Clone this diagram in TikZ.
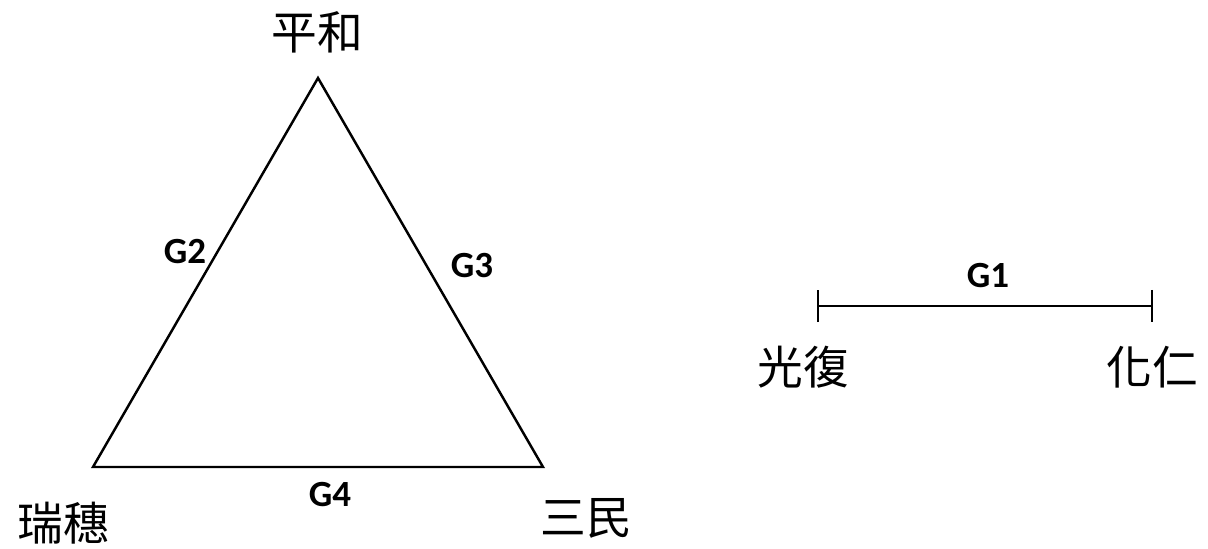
\documentclass[tikz,border=0pt]{standalone}
\usepackage{fontspec}
\setmainfont{Carlito}
\newfontfamily\cjkfont{Noto Sans CJK TC}
\usetikzlibrary{arrows.meta, positioning}

\begin{document}
\begin{tikzpicture}[
    x=0.01cm, y=-0.01cm,
    place/.style={
      inner sep=0pt,
      font=\cjkfont\fontsize{13}{15}\selectfont
    },
    glabel/.style={
      inner sep=0pt,
      font=\bfseries\fontsize{10.5}{12}\selectfont
    },
    edge/.style={
      line width=0.7pt,
      black
    }
  ]
    \useasboundingbox (0,0) rectangle (1208,549);

    % Triangle
    \coordinate (pinghe) at (318,78);
    \coordinate (ruisui) at (93,467);
    \coordinate (sanmin) at (543,467);
    \draw[edge, line join=miter] (pinghe) -- (sanmin) -- (ruisui) -- cycle;

    \node[place] (lpinghe) at (317,32) {平和};
    \node[place] (lruisui) at (63,523) {瑞穗};
    \node[place] (lsanmin) at (586,518) {三民};

    \node[glabel] (g2) at (185,252) {G2};
    \node[glabel] (g3) at (472,266) {G3};
    \node[glabel] (g4) at (330,495) {G4};

    % Segment
    \coordinate (guangfu) at (817,306);
    \coordinate (huaren) at (1153,306);
    \draw[edge, {Bar[width=3.2mm]}-{Bar[width=3.2mm]}] (guangfu) -- (huaren);

    \node[place] (lguangfu) at (803,367) {光復};
    \node[place] (lhuaren) at (1152,367) {化仁};
    \node[glabel] (g1) at (988,276) {G1};

  \end{tikzpicture}
\end{document}
